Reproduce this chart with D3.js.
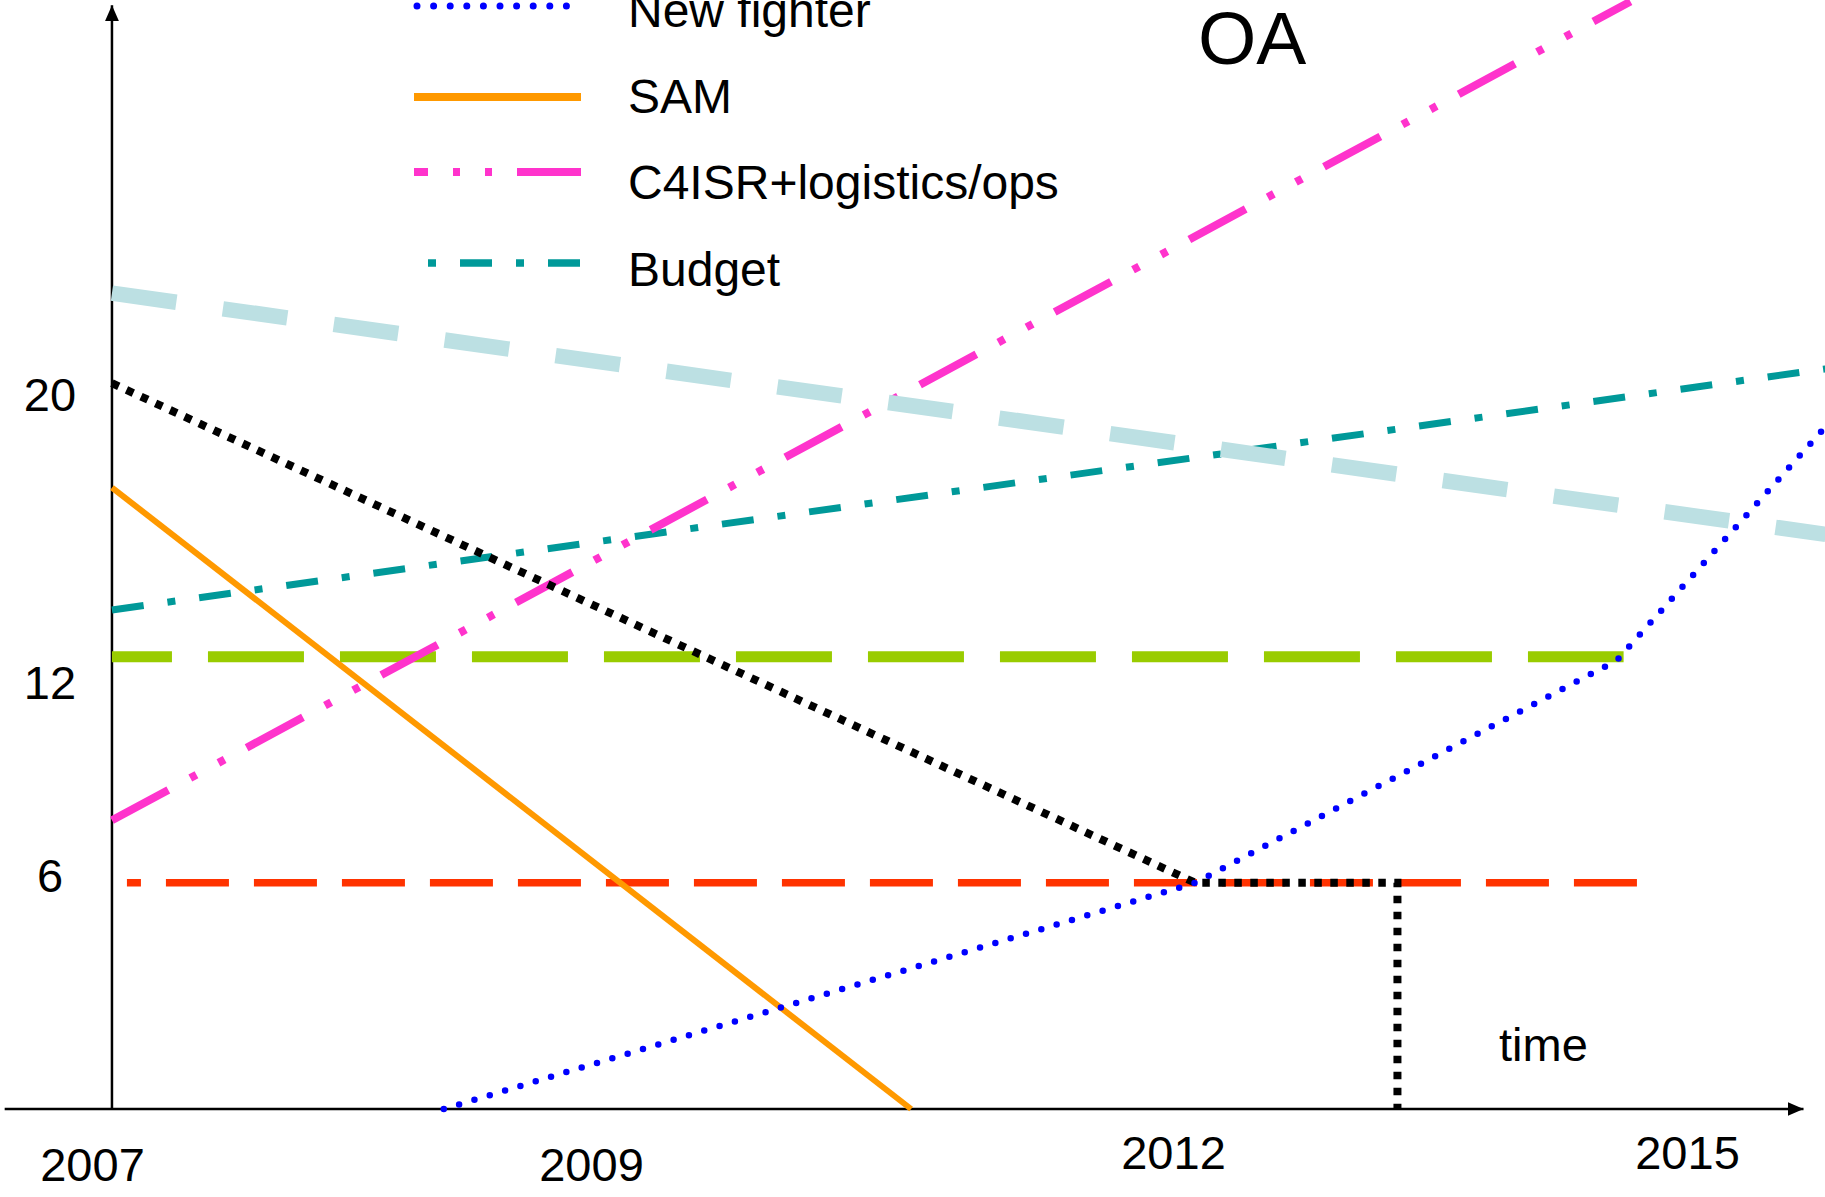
<!DOCTYPE html>
<html lang="en">
<head>
    <meta charset="UTF-8">
    <title>OA</title>
    <style>
        body { margin: 0; background: #fff; }
        svg { display: block; }
        text { font-family: "Liberation Sans", Arial, sans-serif; fill: #000; }
    </style>
</head>
<body>
    <div id="chart"></div>

    <script src="https://d3js.org/d3.v7.min.js"></script>
    <script>
        const w = 1825;
        const h = 1197;

        // tick labels
        const years = [2007, 2009, 2012, 2015];
        const levels = [6, 12, 20];

        // ends of the hand drawn axes, in data units
        const axisX0 = 2006.65;
        const axisX1 = 2015.68;
        const axisOrigin = 2007.08;
        const axisTop = 30.8;

        // series, [year, value]
        const newFighter = [[2008.41, 0], [2012.13, 5.8], [2014.59, 12.6], [2015.81, 19.1]];
        const sam = [[2007.08, 17.4], [2010.65, 0]];
        const c4isr = [[2007.08, 7.7], [2014.67, 30.9]];
        const budget = [[2007.08, 14.0], [2015.81, 20.7]];
        const ceiling = [[2007.08, 22.8], [2015.81, 16.1]];
        const level12 = [[2007.08, 12.7], [2014.63, 12.7]];
        const level6 = [[2007.14, 5.8], [2014.71, 5.8]];
        const crossing = [[2007.08, 20.3], [2012.13, 5.8], [2013.31, 5.8], [2013.31, 0]];

        const legendNames = ['New fighter', 'SAM', 'C4ISR+logistics/ops', 'Budget'];

        // the labels on the original are not evenly spaced, so piecewise scales
        const x = d3.scaleLinear().domain(years).range([92, 591, 1173, 1687]);
        const y = d3.scaleLinear().domain([0, ...levels]).range([1109, 875, 682, 394]);

        const line = d3.line().x(d => x(d[0])).y(d => y(d[1]));

        const svg = d3.select('#chart')
            .append('svg')
            .attr('width', w)
            .attr('height', h);

        svg.append('rect').attr('width', w).attr('height', h).attr('fill', '#fff');

        svg.append('defs').append('marker')
            .attr('id', 'arrow')
            .attr('viewBox', '0 0 16 14')
            .attr('refX', 16)
            .attr('refY', 7)
            .attr('markerWidth', 16)
            .attr('markerHeight', 14)
            .attr('markerUnits', 'userSpaceOnUse')
            .attr('orient', 'auto')
            .append('path')
            .attr('d', 'M0,0L16,7L0,14Z')
            .attr('fill', '#000');

        // axes
        svg.append('line')
            .attr('x1', x(axisX0)).attr('y1', y(0))
            .attr('x2', x(axisX1)).attr('y2', y(0))
            .attr('stroke', '#000').attr('stroke-width', 2.5)
            .attr('marker-end', 'url(#arrow)');
        svg.append('line')
            .attr('x1', x(axisOrigin)).attr('y1', y(0))
            .attr('x2', x(axisOrigin)).attr('y2', y(axisTop))
            .attr('stroke', '#000').attr('stroke-width', 2.5)
            .attr('marker-end', 'url(#arrow)');

        const yAxis = svg.append('g')
            .attr('transform', 'translate(50,0)')
            .call(d3.axisLeft(y).tickValues(levels).tickSize(0).tickPadding(0));
        const xAxis = svg.append('g')
            .attr('transform', `translate(0,${y(0)})`)
            .call(d3.axisBottom(x).tickValues(years).tickFormat(d3.format('d')).tickSize(0));

        [yAxis, xAxis].forEach(g => {
            g.select('.domain').remove();
            g.attr('font-size', 47).attr('font-family', '"Liberation Sans", Arial, sans-serif');
        });
        yAxis.selectAll('text').attr('x', 0).attr('text-anchor', 'middle').attr('dy', '0.36em').attr('fill', '#000');
        xAxis.selectAll('text').attr('y', d => d < 2010 ? 72 : 60).attr('dy', 0).attr('fill', '#000');

        // lines, in drawing order
        const styles = {
            level6:   { color: '#ff3300', width: 7.5, dash: '63 25', offset: 49 },
            level12:  { color: '#99cc00', width: 11, dash: '96 36', offset: 36 },
            budget:   { color: '#009999', width: 7, dash: '32 24 8 24', offset: 0 },
            c4isr:    { color: '#ff33cc', width: 8, dash: '64 25 7 25 7 25', offset: 0 },
            ceiling:  { color: '#bce0e3', width: 15.5, dash: '65 47', offset: 0 },
            sam:      { color: '#ff9900', width: 6, dash: null, offset: 0 },
            crossing: { color: '#000000', width: 8, dash: '7.5 8.5', offset: 0 },
            newFighter: { color: '#0000ff', width: 6.5, dash: '0 16', offset: 0, cap: 'round' }
        };
        const series = [
            ['level6', level6], ['level12', level12], ['budget', budget], ['c4isr', c4isr],
            ['ceiling', ceiling], ['sam', sam], ['crossing', crossing], ['newFighter', newFighter]
        ];

        svg.append('g')
            .selectAll('path')
            .data(series)
            .enter()
            .append('path')
            .attr('d', d => line(d[1]))
            .attr('fill', 'none')
            .attr('stroke', d => styles[d[0]].color)
            .attr('stroke-width', d => styles[d[0]].width)
            .attr('stroke-dasharray', d => styles[d[0]].dash)
            .attr('stroke-dashoffset', d => styles[d[0]].offset)
            .attr('stroke-linecap', d => styles[d[0]].cap || 'butt')
            .attr('stroke-linejoin', 'miter');

        // legend
        const legendRows = [
            { key: 'newFighter', ly: 6, ty: 27, x0: 417, width: 7, dash: '0 16.6', offset: 0 },
            { key: 'sam', ly: 97, ty: 113, x0: 414, width: 8, dash: null, offset: 0 },
            { key: 'c4isr', ly: 172, ty: 199, x0: 414, width: 8, dash: '64 25 7 25 7 25', offset: 50 },
            { key: 'budget', ly: 263, ty: 286, x0: 414, width: 7.5, dash: '32 24 8 24', offset: 42 }
        ];
        const legend = svg.append('g');
        legend.selectAll('line')
            .data(legendRows)
            .enter()
            .append('line')
            .attr('x1', d => d.x0).attr('x2', 581)
            .attr('y1', d => d.ly).attr('y2', d => d.ly)
            .attr('stroke', d => styles[d.key].color)
            .attr('stroke-width', d => d.width)
            .attr('stroke-dasharray', d => d.dash)
            .attr('stroke-dashoffset', d => d.offset)
            .attr('stroke-linecap', d => styles[d.key].cap || 'butt');
        legend.selectAll('text')
            .data(legendRows)
            .enter()
            .append('text')
            .attr('x', 628)
            .attr('y', d => d.ty)
            .attr('font-size', 48)
            .text((d, i) => legendNames[i]);

        svg.append('text').attr('x', 1198).attr('y', 64).attr('font-size', 75).text('OA');
        svg.append('text').attr('x', 1499).attr('y', 1061).attr('font-size', 47).text('time');
    </script>
</body>
</html>
